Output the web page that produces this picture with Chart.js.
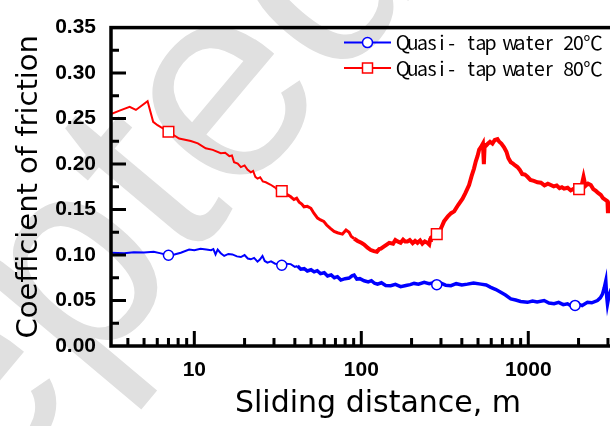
<!DOCTYPE html>
<html>
<head>
<meta charset="utf-8">
<script src="https://cdn.jsdelivr.net/npm/chart.js@4/dist/chart.umd.min.js"></script>
<style>
  html, body { margin: 0; padding: 0; background: #fff; overflow: hidden; }
  #wrap { position: relative; width: 610px; height: 426px; overflow: hidden; }
  #stamp {
    position: absolute; left: -497px; top: 711px;
    font: 280px/1 'Liberation Sans', Arial, sans-serif; color: #e0e0e0;
    white-space: nowrap; transform-origin: 0 0; transform: rotate(-50deg);
  }
  #chart { position: absolute; left: 0; top: 0; }
</style>
</head>
<body>
<div id="wrap">
  <div id="stamp">Accepted Manuscript</div>
  <canvas id="chart" width="660" height="426"></canvas>
</div>
<script>
// friction coefficient vs sliding distance (m), log x axis
const blueLabel = 'Quasi- tap water 20℃';
const redLabel = 'Quasi- tap water 80℃';

const blueDist = [3.17, 3.8, 4.34, 5.0, 5.72, 6.3, 7.0, 7.6, 8.3, 9.31, 10.0, 10.9, 11.8, 12.6, 13.0, 13.4, 13.8, 14.4, 15.1, 16.0,
  16.9, 18.0, 19.0, 20.0, 20.9, 21.8, 22.8, 23.9, 24.7, 25.6, 26.4, 27.4, 28.8, 30.5, 32.0, 33.4, 35.5, 37.8, 40.0, 41.5,
  43.4, 45.5, 47.5, 50.0, 52.2, 54.5, 57.0, 60.0, 62.8, 66.0, 69.0, 72.0, 75.4, 80.0, 84.5, 88.0, 90.6, 94.0, 98.0, 104,
  110, 115, 120, 125, 132, 140, 150, 160, 172, 185, 196, 207, 220, 238, 255, 270, 283, 300, 320, 344,
  370, 400, 432, 470, 520, 560, 596, 640, 684, 730, 786, 840, 900, 989, 1060, 1130, 1244, 1330, 1427, 1520,
  1620, 1717, 1810, 1906, 2000, 2100, 2262, 2400, 2596, 2700, 2782, 2850, 2912, 2950, 2980, 3050, 3118, 3200];
const blueCof = [0.1025, 0.1020, 0.1030, 0.1028, 0.1036, 0.1018, 0.0997, 0.1005, 0.1025, 0.1060, 0.1052, 0.1070, 0.1062, 0.1054, 0.1065, 0.1007, 0.1060, 0.1020, 0.0990, 0.1012,
  0.1007, 0.0985, 0.0978, 0.1000, 0.0962, 0.0953, 0.0968, 0.0927, 0.0950, 0.0990, 0.0935, 0.0917, 0.0930, 0.0905, 0.0900, 0.0888, 0.0905, 0.0900, 0.0870, 0.0880,
  0.0844, 0.0850, 0.0825, 0.0838, 0.0815, 0.0828, 0.0795, 0.0805, 0.0770, 0.0782, 0.0750, 0.0762, 0.0725, 0.0740, 0.0747, 0.0772, 0.0780, 0.0735, 0.0740, 0.0717,
  0.0705, 0.0718, 0.0690, 0.0680, 0.0695, 0.0665, 0.0663, 0.0678, 0.0652, 0.0665, 0.0675, 0.0688, 0.0680, 0.0700, 0.0685, 0.0695, 0.0674, 0.0690, 0.0668, 0.0663,
  0.0685, 0.0672, 0.0680, 0.0692, 0.0680, 0.0670, 0.0645, 0.0620, 0.0590, 0.0560, 0.0518, 0.0505, 0.0490, 0.0480, 0.0495, 0.0485, 0.0500, 0.0472, 0.0464, 0.0480,
  0.0455, 0.0464, 0.0440, 0.0446, 0.0460, 0.0445, 0.0480, 0.0475, 0.0500, 0.0530, 0.0570, 0.0640, 0.0717, 0.0540, 0.0460, 0.0560, 0.0610, 0.0600];
const blueMarks = [7.0, 33.4, 283, 1906];

const redDist = [3.17, 3.6, 4.1, 4.47, 5.25, 5.67, 6.02, 7.0, 8.11, 9.53, 10.5, 11.7, 12.9, 14.4, 15.3, 16.2, 16.8, 17.3, 18.2, 19.0,
  20.0, 20.8, 21.8, 22.5, 23.2, 23.9, 24.8, 25.7, 26.8, 28.5, 30.5, 32.0, 33.4, 35.5, 37.8, 39.5, 41.0, 42.5, 44.0, 45.4,
  47.5, 49.9, 52.0, 54.7, 57.0, 59.6, 62.0, 65.0, 68.7, 72.0, 77.1, 81.0, 84.5, 87.0, 90.6, 95.0, 100, 104, 109, 114,
  119, 124, 128, 131, 137, 142, 147, 155, 160, 165, 172, 178, 183, 189, 195, 203, 210, 217, 225, 232,
  240, 249, 255, 258, 261, 270, 283, 298, 313, 330, 345, 360, 380, 404, 420, 442, 458, 473, 485, 497,
  508, 520, 535, 542, 548, 560, 570, 590, 610, 630, 654, 670, 690, 716, 740, 760, 786, 810, 835, 861,
  890, 920, 955, 989, 1030, 1080, 1135, 1190, 1250, 1310, 1364, 1420, 1480, 1540, 1590, 1638, 1720, 1796, 1900, 2015,
  2080, 2142, 2200, 2280, 2367, 2450, 2540, 2630, 2717, 2800, 2900, 2980, 3000, 3030, 3118, 3200];
const redCof = [0.2550, 0.2590, 0.2630, 0.2595, 0.2690, 0.2464, 0.2427, 0.2355, 0.2280, 0.2253, 0.2228, 0.2174, 0.2156, 0.2120, 0.2125, 0.2087, 0.2095, 0.2020, 0.2005, 0.1967,
  0.1985, 0.1940, 0.1910, 0.1925, 0.1860, 0.1840, 0.1855, 0.1810, 0.1800, 0.1775, 0.1740, 0.1725, 0.1703, 0.1670, 0.1640, 0.1610, 0.1625, 0.1580, 0.1560, 0.1530,
  0.1535, 0.1514, 0.1460, 0.1406, 0.1385, 0.1370, 0.1330, 0.1295, 0.1260, 0.1245, 0.1230, 0.1275, 0.1250, 0.1205, 0.1180, 0.1155, 0.1135, 0.1116, 0.1080, 0.1055,
  0.1043, 0.1035, 0.1065, 0.1070, 0.1095, 0.1115, 0.1134, 0.1125, 0.1165, 0.1150, 0.1135, 0.1170, 0.1150, 0.1150, 0.1165, 0.1130, 0.1155, 0.1134, 0.1160, 0.1125,
  0.1150, 0.1134, 0.1116, 0.1165, 0.1190, 0.1210, 0.1230, 0.1280, 0.1370, 0.1425, 0.1460, 0.1480, 0.1550, 0.1620, 0.1680, 0.1770, 0.1870, 0.1950, 0.2030, 0.2090,
  0.2160, 0.2185, 0.2225, 0.2000, 0.2210, 0.2205, 0.2220, 0.2245, 0.2225, 0.2265, 0.2275, 0.2245, 0.2225, 0.2185, 0.2135, 0.2065, 0.2020, 0.2005, 0.1985, 0.1967,
  0.1935, 0.1890, 0.1885, 0.1860, 0.1825, 0.1815, 0.1800, 0.1795, 0.1765, 0.1785, 0.1770, 0.1755, 0.1765, 0.1735, 0.1745, 0.1730, 0.1740, 0.1710, 0.1735, 0.1725,
  0.1755, 0.1860, 0.1760, 0.1785, 0.1770, 0.1725, 0.1705, 0.1680, 0.1660, 0.1625, 0.1605, 0.1590, 0.1460, 0.1555, 0.1565, 0.1580];
const redMarks = [7.0, 33.4, 283, 2015];

const yTicks = [0, 0.05, 0.10, 0.15, 0.20, 0.25, 0.30, 0.35];
const xTicks = [10, 100, 1000];

const BLUE = '#0000ff';
const RED = '#ff0000';

Chart.defaults.font.family = "'Liberation Sans', Arial, sans-serif";
Chart.defaults.color = '#000';

function pairs(xs, ys) {
  return xs.map((x, i) => ({ x: x, y: ys[i] }));
}

// black box round the plot with inward tick marks
const axisFrame = {
  id: 'axisFrame',
  afterDatasetsDraw(chart) {
    const { ctx, chartArea: a, scales: { x, y } } = chart;
    ctx.save();
    ctx.strokeStyle = '#000';
    ctx.lineWidth = 3;
    ctx.beginPath();
    for (let v = 0.025; v < 0.35; v += 0.025) {
      const py = y.getPixelForValue(v);
      const major = yTicks.some(t => Math.abs(t - v) < 1e-6);
      ctx.moveTo(a.left, py);
      ctx.lineTo(a.left + (major ? 15 : 8), py);
    }
    for (let d = 1; d <= 1000; d *= 10) {
      for (let m = 1; m < 10; m++) {
        const v = m * d;
        if (v <= x.min || v >= x.max) continue;
        const px = x.getPixelForValue(v);
        ctx.moveTo(px, a.bottom);
        ctx.lineTo(px, a.bottom - (m === 1 ? 15 : 8));
      }
    }
    ctx.stroke();
    ctx.lineWidth = 3.5;
    ctx.strokeRect(a.left, a.top, a.right - a.left, a.bottom - a.top);
    ctx.restore();
  }
};

// legend sitting inside the plot, top right
function gothicText(ctx, text, x, y, size) {
  let cx = x;
  for (const ch of text) {
    const w = ch.charCodeAt(0) > 255 ? size : size / 2;
    ctx.fillText(ch, cx + w / 2, y);
    cx += w;
  }
}

const insideLegend = {
  id: 'insideLegend',
  afterDraw(chart) {
    const ctx = chart.ctx;
    const a = chart.chartArea;
    const x0 = a.left + 233, x1 = a.left + 280, xm = (x0 + x1) / 2;
    ctx.save();
    chart.data.datasets.forEach((ds, i) => {
      const yy = a.top + 15 + i * 25.5;
      ctx.strokeStyle = ds.borderColor;
      ctx.lineWidth = 2;
      ctx.beginPath();
      ctx.moveTo(x0, yy);
      ctx.lineTo(x1, yy);
      ctx.stroke();
      ctx.fillStyle = '#fff';
      ctx.lineWidth = 1.5;
      ctx.beginPath();
      if (ds.pointStyle === 'rect') {
        ctx.rect(xm - 5, yy - 5, 10, 10);
      } else {
        ctx.arc(xm, yy, 5, 0, Math.PI * 2);
      }
      ctx.fill();
      ctx.stroke();
      ctx.fillStyle = '#000';
      ctx.font = "19.5px 'Noto Sans CJK JP', sans-serif";
      ctx.textAlign = 'center';
      ctx.textBaseline = 'middle';
      gothicText(ctx, ds.label, x1 + 7, yy, 19.5);
    });
    ctx.restore();
  }
};

new Chart(document.getElementById('chart'), {
  type: 'line',
  data: {
    datasets: [
      {
        label: blueLabel,
        data: pairs(blueDist, blueCof),
        borderColor: BLUE,
        borderWidth: 2,
        segment: { borderWidth: c => (c.p0.parsed.x > 40 ? 3.5 : 2) },
        pointStyle: 'circle',
        pointRadius: c => (blueMarks.includes(c.raw.x) ? 5 : 0),
        pointBackgroundColor: '#fff',
        pointBorderColor: BLUE,
        pointBorderWidth: 1.5
      },
      {
        label: redLabel,
        data: pairs(redDist, redCof),
        borderColor: RED,
        borderWidth: 2,
        segment: { borderWidth: c => (c.p0.parsed.x > 90 ? 4 : c.p0.parsed.x > 30 ? 3 : 2) },
        pointStyle: 'rect',
        pointRadius: c => (redMarks.includes(c.raw.x) ? 7.5 : 0),
        pointBackgroundColor: '#fff',
        pointBorderColor: RED,
        pointBorderWidth: 1.5
      }
    ]
  },
  options: {
    responsive: false,
    animation: false,
    events: [],
    layout: { padding: { top: 24, right: 15, left: 0, bottom: 0 } },
    plugins: { legend: { display: false }, tooltip: { enabled: false } },
    scales: {
      x: {
        type: 'logarithmic',
        min: 3.17,
        max: 5000,
        afterFit: s => { s.height = 80; },
        afterBuildTicks: s => { s.ticks = xTicks.map(v => ({ value: v })); },
        grid: { display: false, drawTicks: false },
        border: { display: false },
        ticks: {
          padding: 12,
          autoSkip: false,
          maxRotation: 0,
          font: { size: 21, weight: 'bold' },
          callback: v => String(v)
        },
        title: {
          display: true,
          text: 'Sliding distance, m',
          font: { family: "'DejaVu Sans', sans-serif", size: 30 },
          padding: { top: 0, bottom: 4 }
        }
      },
      y: {
        min: 0,
        max: 0.35,
        afterFit: s => { s.width = 111; },
        afterBuildTicks: s => { s.ticks = yTicks.map(v => ({ value: v })); },
        grid: { display: false, drawTicks: false },
        border: { display: false },
        ticks: {
          padding: 15,
          font: { size: 21, weight: 'bold' },
          callback: v => v.toFixed(2)
        },
        title: {
          display: true,
          text: 'Coefficient of friction',
          font: { family: "'DejaVu Sans', sans-serif", size: 29 },
          padding: { top: 12, bottom: 0 }
        }
      }
    }
  },
  plugins: [axisFrame, insideLegend]
});
</script>
</body>
</html>
